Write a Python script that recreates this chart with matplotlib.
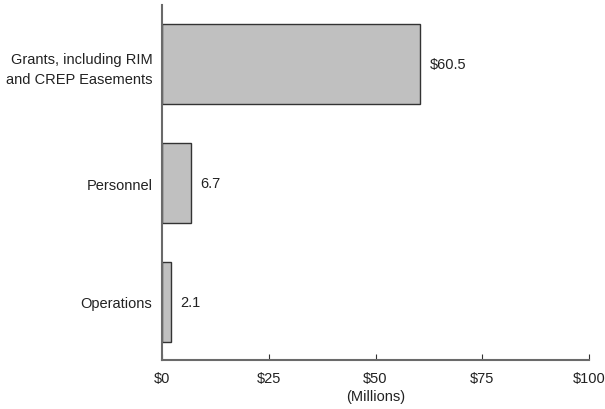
import matplotlib
matplotlib.use('Agg')
from matplotlib import pyplot as plt

categories = ['Operations', 'Personnel', 'Grants, including RIM\nand CREP Easements']
values = [2.1, 6.7, 60.5]
value_labels = ['2.1', '6.7', '$60.5']
x_ticks = [0, 25, 50, 75, 100]
x_tick_labels = ['$0', '$25', '$50', '$75', '$100']

plt.rcParams['font.family'] = ['Liberation Sans', 'DejaVu Sans']
fs = 10.5

fig = plt.figure(figsize=(6.05, 4.10), dpi=100)
ax = fig.add_axes([162/605, 49/410, 427/605, 355/410])

pos = range(len(categories))
bars = ax.barh(pos, values, height=0.674, color='#c0c0c0', edgecolor='#333333', linewidth=1.0)

for b, lab in zip(bars, value_labels):
    ax.annotate(lab, (b.get_width(), b.get_y() + b.get_height()/2),
                xytext=(7, 0), textcoords='offset points',
                ha='left', va='center', fontsize=fs, color='#222222')

ax.set_xlim(0, 100)
ax.set_ylim(-0.49, 2.5)
ax.set_xticks(x_ticks)
ax.set_xticklabels(x_tick_labels, fontsize=fs, color='#222222')
ax.set_yticks(list(pos))
ax.set_yticklabels(categories, fontsize=fs, color='#222222', ha='right', linespacing=1.55)
ax.tick_params(axis='y', length=0, pad=7)
ax.tick_params(axis='x', direction='in', length=4, color='#333333', pad=8)
ax.set_xlabel('(Millions)', fontsize=fs, color='#222222', labelpad=3)

for s in ['top', 'right']:
    ax.spines[s].set_visible(False)
for s in ['left', 'bottom']:
    ax.spines[s].set_color('#6a6a6a')
    ax.spines[s].set_linewidth(1.5)

fig.savefig('out.png', dpi=100)
